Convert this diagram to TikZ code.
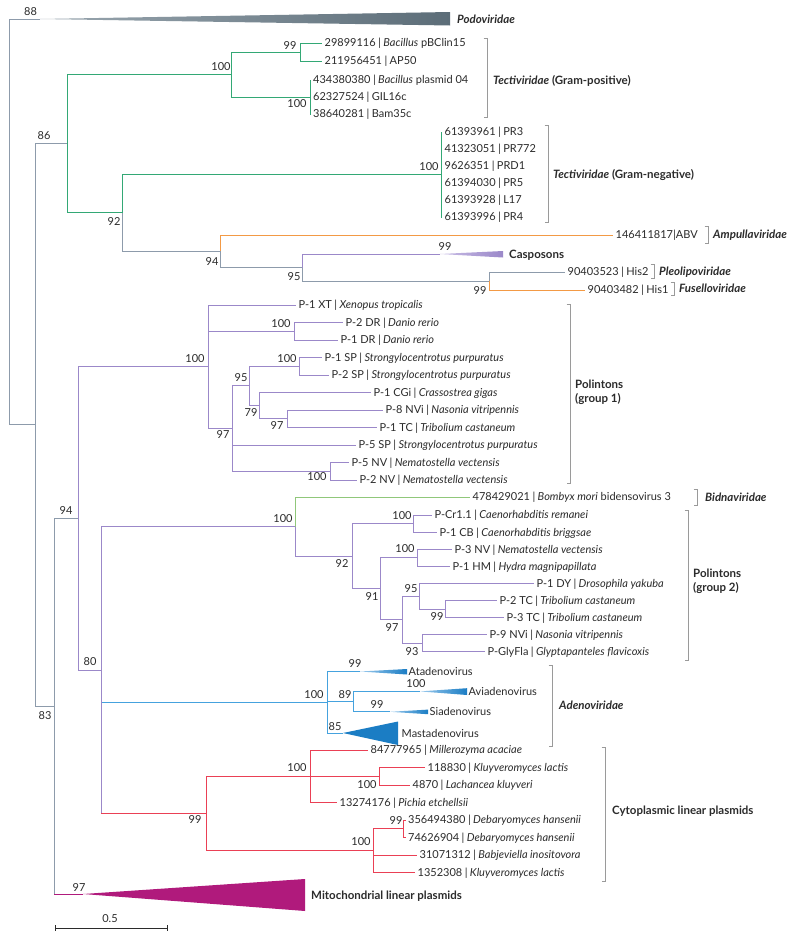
\documentclass[tikz,border=0pt]{standalone}
\usepackage{fontspec}
\setmainfont{Lato}
\definecolor{cGray}{HTML}{8D9BAB}
\definecolor{cGreen}{HTML}{33A875}
\definecolor{cLGreen}{HTML}{90C77A}
\definecolor{cOrange}{HTML}{F39A45}
\definecolor{cPurple}{HTML}{9B88C9}
\definecolor{cPurpleL}{HTML}{C9BEE6}
\definecolor{cBlue}{HTML}{45A2DE}
\definecolor{cBlueD}{HTML}{1B7DC4}
\definecolor{cBlueL}{HTML}{9CCBEE}
\definecolor{cRed}{HTML}{EA4055}
\definecolor{cMag}{HTML}{B01A7C}
\definecolor{cPodo}{HTML}{5C6D78}
\definecolor{cPodoL}{HTML}{9AA7B0}
\definecolor{cBr}{HTML}{9A9A9A}
\definecolor{cTxt}{HTML}{2B2B2B}
\newcommand{\vsep}{\hspace{0.22em}|\hspace{0.22em}}
\tikzset{
  br/.style={line width=1pt},
  gr/.style={br,draw=cGray},
  gn/.style={br,draw=cGreen},
  lg/.style={br,draw=cLGreen},
  orl/.style={br,draw=cOrange},
  pu/.style={br,draw=cPurple},
  bl/.style={br,draw=cBlue},
  rd/.style={br,draw=cRed},
  mg/.style={br,draw=cMag},
  lf/.style={anchor=west,inner xsep=2.5pt,inner ysep=0pt,text height=7.9pt,text depth=0pt,font=\fontsize{11}{13}\selectfont,text=cTxt},
  bs/.style={inner sep=0pt,font=\fontsize{11}{12}\selectfont,text=cTxt},
  grp/.style={anchor=west,inner sep=0pt,text height=8.2pt,text depth=0pt,font=\fontsize{11.5}{13}\selectfont\bfseries,text=cTxt},
  grpl/.style={anchor=west,inner sep=0pt,align=left,font=\fontsize{11.5}{14}\selectfont\bfseries,text=cTxt},
  brk/.style={draw=cBr,line width=0.7pt},
}
\newcommand{\grpbr}[3]{\draw[brk] (#1-3.5,#2) -- (#1,#2) -- (#1,#3) -- (#1-3.5,#3);}
\begin{document}
\begin{tikzpicture}[x=1pt,y=-1pt]
\useasboundingbox[fill=white] (0,0) rectangle (800,940);

% ---------- root ----------
\coordinate (r) at (9,222);
\coordinate (podo) at (40,19);
\coordinate (n35) at (35,424.9);
\draw[gr] (r) |- (podo);
\draw[gr] (r) |- (n35);
\shade[left color=cPodoL,right color=cPodo] (podo) -- (450,12) -- (450,25.5) -- cycle;
\node[grp] (podoL) at (457,19) {\textit{Podoviridae}};
\node[bs] (b88) at (30.5,12) {88};

\coordinate (n86) at (67,143.6);
\coordinate (n83) at (54,706.2);
\draw[gr] (n35) |- (n86);
\draw[gr] (n35) |- (n83);
\node[bs] (b86) at (44,135.5) {86};

% ---------- Tectiviridae Gram-positive ----------
\coordinate (n100a) at (231,74.5);
\coordinate (n92) at (122,212.8);
\draw[gn] (n86) |- (n100a);
\draw[gn] (n86) |- (n92);
\coordinate (n99a) at (300,52);
\coordinate (n100b) at (310,97);
\draw[gn] (n100a) |- (n99a);
\draw[gn] (n100a) |- (n100b);
\node[lf] (l1) at (322,43) {29899116\vsep\textit{Bacillus} pBClin15};
\node[lf] (l2) at (322,61) {211956451\vsep AP50};
\draw[gn] (n99a) |- (l1.west);
\draw[gn] (n99a) |- (l2.west);
\node[lf] (l3) at (310.5,80) {434380380\vsep\textit{Bacillus} plasmid 04};
\node[lf] (l4) at (310.5,97) {62327524\vsep GIL16c};
\node[lf] (l5) at (310.5,114) {38640281\vsep Bam35c};
\draw[gn] (n100b) |- (l3.west);
\draw[gn] (n100b) |- (l4.west);
\draw[gn] (n100b) |- (l5.west);
\node[bs] (b99a) at (290,46) {99};
\node[bs] (b100a) at (221,67) {100};
\node[bs] (b100b) at (297,104) {100};
\grpbr{487}{38}{117}
\node[grp] (tgp) at (493,80) {\textit{Tectiviridae} (Gram-positive)};

% ---------- Tectiviridae Gram-negative ----------
\coordinate (n100c) at (441,174.5);
\draw[gn] (n92) |- (n100c);
\node[lf] (g1) at (442,132) {61393961\vsep PR3};
\node[lf] (g2) at (442,149) {41323051\vsep PR772};
\node[lf] (g3) at (442,166) {9626351\vsep PRD1};
\node[lf] (g4) at (442,183) {61394030\vsep PR5};
\node[lf] (g5) at (442,200) {61393928\vsep L17};
\node[lf] (g6) at (442,217) {61393996\vsep PR4};
\foreach \g in {g1,g2,g3,g4,g5,g6} {\draw[gn] (n100c) |- (\g.west);}
\node[bs] (b100c) at (429,167) {100};
\node[bs] (b92) at (114,221.5) {92};
\grpbr{548}{125}{222}
\node[grp] (tgn) at (553,174) {\textit{Tectiviridae} (Gram-negative)};

% ---------- Ampulla / Casposons / His ----------
\coordinate (n94) at (220,251.2);
\draw[gr] (n92) |- (n94);
\node[lf] (abv) at (613,235) {146411817|ABV};
\draw[orl] (n94) |- (abv.west);
\node[bs] (b94) at (212,262) {94};
\grpbr{708}{226}{243}
\node[grp] (ampL) at (713,234) {\textit{Ampullaviridae}};
\coordinate (n95) at (302,267.5);
\draw[gr] (n94) |- (n95);
\node[bs] (b95) at (294,277) {95};
\coordinate (casT) at (440,254);
\draw[pu] (n95) |- (casT);
\shade[left color=cPurpleL,right color=cPurple] (casT) -- (503,251) -- (503,257.5) -- cycle;
\node[bs] (b99c) at (445,247) {99};
\node[grp] (casL) at (509,254) {Casposons};
\coordinate (n99h) at (489,281);
\draw[gr] (n95) |- (n99h);
\node[bs] (b99h) at (480,291) {99};
\node[lf] (his2) at (565,272) {90403523\vsep His2};
\node[lf] (his1) at (585,290) {90403482\vsep His1};
\draw[gr] (n99h) |- (his2.west);
\draw[orl] (n99h) |- (his1.west);
\grpbr{654}{264}{278}
\node[grp] (pleoL) at (659,271) {\textit{Pleolipoviridae}};
\grpbr{674}{282}{295}
\node[grp] (fusL) at (679,288.5) {\textit{Fuselloviridae}};

% ---------- lower backbone ----------
\coordinate (n94b) at (78,518.4);
\draw[gr] (n83) |- (n94b);
\node[bs] (b94b) at (66,511) {94};
\node[bs] (b83) at (45,716) {83};
\coordinate (mitoT) at (83,894);
\draw[gr] (n83) -- (n83 |- mitoT);
\draw[mg] (n83 |- mitoT) -- (mitoT);
\fill[cMag] (mitoT) -- (305,879) -- (305,911) -- cycle;
\node[bs] (b97m) at (79,888) {97};
\node[grp] (mitoL) at (311,895) {Mitochondrial linear plasmids};

% ---------- Polintons group 1 ----------
\coordinate (n100g1) at (208,366.8);
\coordinate (n80) at (101,670);
\draw[pu] (n94b) |- (n100g1);
\draw[pu] (n94b) |- (n80);
\node[bs] (b100g1) at (195,359) {100};
\node[bs] (b80) at (90,662) {80};
\coordinate (nDR) at (294,331.25);
\coordinate (n97g1) at (232,428.6);
\coordinate (n95g1) at (249,385.9);
\coordinate (nSP) at (299,366.25);
\coordinate (n79) at (259,405.6);
\coordinate (n97tc) at (287,418.75);
\coordinate (nNV) at (330,471.25);
\node[lf] (pxt) at (296,305) {P-1 XT\vsep\textit{Xenopus tropicalis}};
\node[lf] (pdr2) at (343,322.5) {P-2 DR\vsep\textit{Danio rerio}};
\node[lf] (pdr1) at (338,340) {P-1 DR\vsep\textit{Danio rerio}};
\node[lf] (psp1) at (322,357.5) {P-1 SP\vsep\textit{Strongylocentrotus purpuratus}};
\node[lf] (psp2) at (329,375) {P-2 SP\vsep\textit{Strongylocentrotus purpuratus}};
\node[lf] (pcgi) at (371,392.5) {P-1 CGi\vsep\textit{Crassostrea gigas}};
\node[lf] (pnvi8) at (383,410) {P-8 NVi\vsep\textit{Nasonia vitripennis}};
\node[lf] (ptc1) at (377,427.5) {P-1 TC\vsep\textit{Tribolium castaneum}};
\node[lf] (psp5) at (356,445) {P-5 SP\vsep\textit{Strongylocentrotus purpuratus}};
\node[lf] (pnv5) at (349,462.5) {P-5 NV\vsep\textit{Nematostella vectensis}};
\node[lf] (pnv2) at (357,480) {P-2 NV\vsep\textit{Nematostella vectensis}};
\draw[pu] (n100g1) |- (pxt.west);
\draw[pu] (n100g1) |- (nDR);
\draw[pu] (n100g1) |- (n97g1);
\draw[pu] (nDR) |- (pdr2.west);
\draw[pu] (nDR) |- (pdr1.west);
\draw[pu] (n97g1) |- (n95g1);
\draw[pu] (n97g1) |- (psp5.west);
\draw[pu] (n97g1) |- (nNV);
\draw[pu] (n95g1) |- (nSP);
\draw[pu] (n95g1) |- (n79);
\draw[pu] (nSP) |- (psp1.west);
\draw[pu] (nSP) |- (psp2.west);
\draw[pu] (n79) |- (pcgi.west);
\draw[pu] (n79) |- (n97tc);
\draw[pu] (n97tc) |- (pnvi8.west);
\draw[pu] (n97tc) |- (ptc1.west);
\draw[pu] (nNV) |- (pnv5.west);
\draw[pu] (nNV) |- (pnv2.west);
\node[bs] (b100dr) at (281,324) {100};
\node[bs] (b100sp) at (287,359) {100};
\node[bs] (b95g1) at (241,378) {95};
\node[bs] (b79) at (251,413) {79};
\node[bs] (b97tc) at (277,426) {97};
\node[bs] (b97g1) at (223,435) {97};
\node[bs] (b100nv) at (317,477) {100};
\grpbr{570}{304}{483}
\node[grpl] (pol1) at (575,392) {Polintons\\(group 1)};

% ---------- Bidnaviridae + Polintons group 2 ----------
\coordinate (n100bd) at (295,526.5);
\draw[pu] (n80) |- (n100bd);
\node[bs] (b100bd) at (283,519) {100};
\node[lf] (bid) at (470,497) {478429021\vsep\textit{Bombyx mori} bidensovirus 3};
\draw[lg] (n100bd) |- (bid.west);
\grpbr{697}{489}{505}
\node[grp] (bidL) at (705,497) {\textit{Bidnaviridae}};
\coordinate (n92g2) at (352,556.1);
\draw[pu] (n100bd) |- (n92g2);
\node[bs] (b92g2) at (342,564) {92};
\coordinate (nC) at (413,523.5);
\draw[pu] (n92g2) |- (nC);
\node[bs] (b100C) at (402,516) {100};
\node[lf] (pcr) at (432,515) {P-Cr1.1\vsep\textit{Caenorhabditis remanei}};
\node[lf] (pcb) at (437,532.1) {P-1 CB\vsep\textit{Caenorhabditis briggsae}};
\draw[pu] (nC) |- (pcr.west);
\draw[pu] (nC) |- (pcb.west);
\coordinate (n91) at (380,588.7);
\draw[pu] (n92g2) |- (n91);
\node[bs] (b91) at (372,597) {91};
\coordinate (nHM) at (417,557.8);
\draw[pu] (n91) |- (nHM);
\node[bs] (b100HM) at (405,549) {100};
\node[lf] (pnv3) at (452,549.2) {P-3 NV\vsep\textit{Nematostella vectensis}};
\node[lf] (phm) at (450,566.3) {P-1 HM\vsep\textit{Hydra magnipapillata}};
\draw[pu] (nHM) |- (pnv3.west);
\draw[pu] (nHM) |- (phm.west);
\coordinate (n97g2) at (402,619.7);
\draw[pu] (n91) |- (n97g2);
\node[bs] (b97g2) at (392,628) {97};
\coordinate (n95g2) at (419,596.2);
\draw[pu] (n97g2) |- (n95g2);
\node[bs] (b95g2) at (411,589) {95};
\node[lf] (pdy) at (534,583.4) {P-1 DY\vsep\textit{Drosophila yakuba}};
\draw[pu] (n95g2) |- (pdy.west);
\coordinate (n99tc) at (445,609.05);
\draw[pu] (n95g2) |- (n99tc);
\node[bs] (b99tc) at (437,617) {99};
\node[lf] (ptc2) at (497,600.5) {P-2 TC\vsep\textit{Tribolium castaneum}};
\node[lf] (ptc3) at (504,617.6) {P-3 TC\vsep\textit{Tribolium castaneum}};
\draw[pu] (n99tc) |- (ptc2.west);
\draw[pu] (n99tc) |- (ptc3.west);
\coordinate (n93) at (422,643.25);
\draw[pu] (n97g2) |- (n93);
\node[bs] (b93) at (412,652) {93};
\node[lf] (pnvi9) at (487,634.7) {P-9 NVi\vsep\textit{Nasonia vitripennis}};
\node[lf] (pgly) at (485,651.8) {P-GlyFla\vsep\textit{Glyptapanteles flavicoxis}};
\draw[pu] (n93) |- (pnvi9.west);
\draw[pu] (n93) |- (pgly.west);
\grpbr{688}{510}{660}
\node[grpl] (pol2) at (693,581) {Polintons\\(group 2)};

% ---------- Adenoviridae ----------
\coordinate (n100ad) at (327,702.25);
\draw[pu] (n80) -- (n80 |- n100ad);
\draw[bl] (n80 |- n100ad) -- (n100ad);
\node[bs] (b100ad) at (314,695) {100};
\coordinate (ataT) at (360,671.5);
\draw[bl] (n100ad) |- (ataT);
\shade[left color=cBlueL,right color=cBlueD] (ataT) -- (407,669) -- (407,674.5) -- cycle;
\node[bs] (b99ata) at (355,664) {99};
\node[lf,inner xsep=1.5pt] (ataL) at (407,671.5) {Atadenovirus};
\coordinate (n89) at (353,701.6);
\draw[bl] (n100ad) |- (n89);
\node[bs] (b89) at (345,695) {89};
\coordinate (aviT) at (420,691.4);
\draw[bl] (n89) |- (aviT);
\shade[left color=cBlueL,right color=cBlueD] (aviT) -- (467,688.2) -- (467,695) -- cycle;
\node[bs] (b100avi) at (416,684) {100};
\node[lf,inner xsep=1.5pt] (aviL) at (467,691.4) {Aviadenovirus};
\coordinate (siaT) at (390,711.8);
\draw[bl] (n89) |- (siaT);
\shade[left color=cBlueL,right color=cBlueD] (siaT) -- (428,709.6) -- (428,714.2) -- cycle;
\node[bs] (b99sia) at (377,705) {99};
\node[lf,inner xsep=1.5pt] (siaL) at (428,711.8) {Siadenovirus};
\coordinate (masT) at (343,733);
\draw[bl] (n100ad) |- (masT);
\fill[cBlueD] (masT) -- (398,721.5) -- (398,745) -- cycle;
\node[bs] (b85) at (335,727) {85};
\node[lf,inner xsep=1.5pt] (masL) at (400,734) {Mastadenovirus};
\grpbr{552}{665}{746}
\node[grp] (adL) at (559,705) {\textit{Adenoviridae}};

% ---------- Cytoplasmic linear plasmids ----------
\coordinate (n99cy) at (206,813.4);
\draw[pu] (n80) -- (n80 |- n99cy);
\draw[rd] (n80 |- n99cy) -- (n99cy);
\node[bs] (b99cy) at (195,820) {99};
\coordinate (n100cy1) at (310,776.25);
\draw[rd] (n99cy) |- (n100cy1);
\node[bs] (b100cy1) at (297,768) {100};
\node[lf] (p847) at (368,750) {84777965\vsep\textit{Millerozyma acaciae}};
\draw[rd] (n100cy1) |- (p847.west);
\coordinate (n100kl) at (379,776.25);
\draw[rd] (n100cy1) |- (n100kl);
\node[bs] (b100kl) at (367,785) {100};
\node[lf] (p118) at (425,767.5) {118830\vsep\textit{Kluyveromyces lactis}};
\node[lf] (p487) at (410,785) {4870\vsep\textit{Lachancea kluyveri}};
\draw[rd] (n100kl) |- (p118.west);
\draw[rd] (n100kl) |- (p487.west);
\node[lf] (p132) at (337,802.5) {13274176\vsep\textit{Pichia etchellsii}};
\draw[rd] (n100cy1) |- (p132.west);
\coordinate (n100cy2) at (373,850.6);
\draw[rd] (n99cy) |- (n100cy2);
\node[bs] (b100cy2) at (361,842) {100};
\coordinate (nDeb) at (403,828.75);
\draw[rd] (n100cy2) |- (nDeb);
\node[bs] (b99deb) at (396,821) {99};
\node[lf] (p356) at (405.5,820) {356494380\vsep\textit{Debaryomyces hansenii}};
\node[lf] (p746) at (405.5,837.5) {74626904\vsep\textit{Debaryomyces hansenii}};
\draw[rd] (nDeb) |- (p356.west);
\draw[rd] (nDeb) |- (p746.west);
\node[lf] (p310) at (417,855) {31071312\vsep\textit{Babjeviella inositovora}};
\node[lf] (p135) at (415,872.5) {1352308\vsep\textit{Kluyveromyces lactis}};
\draw[rd] (n100cy2) |- (p310.west);
\draw[rd] (n100cy2) |- (p135.west);
\grpbr{605}{747}{881}
\node[grp] (cyL) at (612,810) {Cytoplasmic linear plasmids};

% ---------- scale bar ----------
\coordinate (sb1) at (55,928);
\coordinate (sb2) at (167,928);
\draw[line width=0.9pt,draw=cTxt] (sb1) -- (sb2);
\draw[line width=0.9pt,draw=cTxt] ([yshift=3pt]sb1) -- ([yshift=-3pt]sb1);
\draw[line width=0.9pt,draw=cTxt] ([yshift=3pt]sb2) -- ([yshift=-3pt]sb2);
\node[bs] (sbL) at (110,919) {0.5};
\end{tikzpicture}
\end{document}
